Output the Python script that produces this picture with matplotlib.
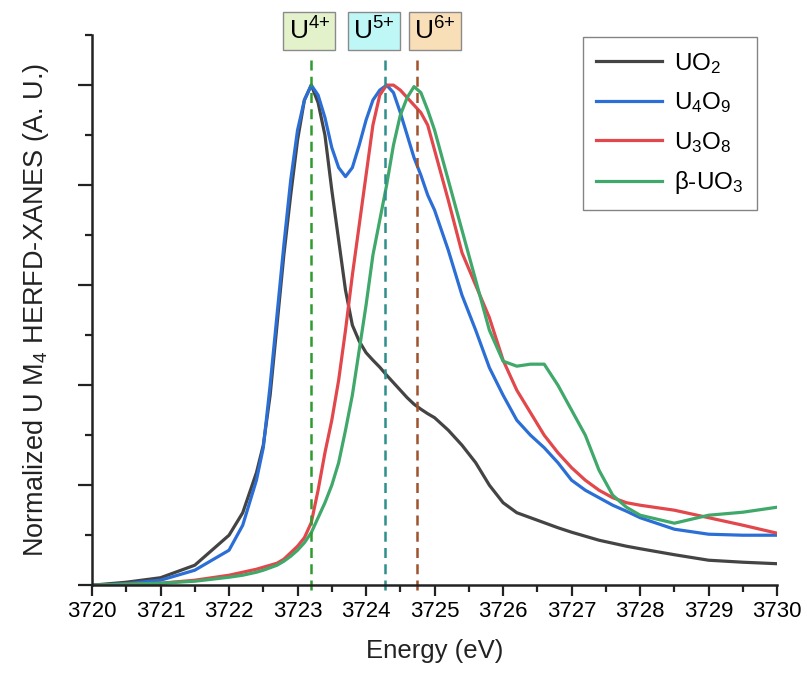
import matplotlib
matplotlib.use("Agg")
import matplotlib.pyplot as plt
from matplotlib.ticker import MultipleLocator

plt.rcParams['font.family'] = ['Liberation Sans', 'DejaVu Sans']
plt.rcParams['mathtext.fontset'] = 'custom'
plt.rcParams['mathtext.rm'] = 'Liberation Sans'
plt.rcParams['mathtext.it'] = 'Liberation Sans:italic'
plt.rcParams['mathtext.bf'] = 'Liberation Sans:bold'

# data
energy = [3720, 3720.5, 3721, 3721.5, 3722, 3722.2, 3722.4, 3722.5, 3722.6, 3722.7,
          3722.8, 3722.9, 3723.0, 3723.1, 3723.2, 3723.3, 3723.4, 3723.5, 3723.6, 3723.7,
          3723.8, 3723.9, 3724.0, 3724.1, 3724.2, 3724.3, 3724.4, 3724.5, 3724.6, 3724.7,
          3724.8, 3724.9, 3725.0, 3725.2, 3725.4, 3725.6, 3725.8, 3726.0, 3726.2, 3726.4,
          3726.6, 3726.8, 3727.0, 3727.2, 3727.4, 3727.6, 3727.8, 3728.0, 3728.5, 3729.0,
          3729.5, 3730.0]

uo2 = [0.0, 0.006, 0.015, 0.04, 0.10, 0.145, 0.225, 0.28, 0.38, 0.52,
       0.66, 0.78, 0.89, 0.97, 1.0, 0.965, 0.90, 0.79, 0.69, 0.59,
       0.52, 0.488, 0.465, 0.45, 0.436, 0.42, 0.405, 0.39, 0.375, 0.362,
       0.352, 0.343, 0.335, 0.31, 0.28, 0.245, 0.20, 0.165, 0.145, 0.135,
       0.125, 0.115, 0.106, 0.098, 0.09, 0.084, 0.078, 0.073, 0.061, 0.05,
       0.046, 0.043]

u4o9 = [0.0, 0.003, 0.01, 0.03, 0.07, 0.12, 0.21, 0.275, 0.40, 0.54,
        0.68, 0.81, 0.91, 0.97, 1.0, 0.98, 0.935, 0.875, 0.835, 0.817,
        0.835, 0.88, 0.93, 0.97, 0.99, 1.0, 0.985, 0.945, 0.90, 0.855,
        0.82, 0.78, 0.75, 0.67, 0.58, 0.51, 0.435, 0.38, 0.33, 0.30,
        0.275, 0.245, 0.21, 0.19, 0.175, 0.16, 0.148, 0.135, 0.112, 0.102,
        0.10, 0.10]

u3o8 = [0.0, 0.002, 0.004, 0.01, 0.02, 0.026, 0.032, 0.036, 0.04, 0.044,
        0.052, 0.065, 0.078, 0.095, 0.125, 0.19, 0.265, 0.33, 0.41, 0.51,
        0.62, 0.72, 0.82, 0.92, 0.98, 1.0, 1.0, 0.99, 0.975, 0.96,
        0.945, 0.92, 0.87, 0.77, 0.665, 0.60, 0.535, 0.45, 0.39, 0.345,
        0.30, 0.265, 0.235, 0.21, 0.19, 0.175, 0.165, 0.16, 0.15, 0.135,
        0.12, 0.104]

buo3 = [0.0, 0.002, 0.004, 0.008, 0.016, 0.02, 0.026, 0.03, 0.035, 0.04,
        0.048, 0.058, 0.07, 0.085, 0.105, 0.135, 0.165, 0.20, 0.245, 0.31,
        0.38, 0.47, 0.56, 0.66, 0.73, 0.80, 0.88, 0.94, 0.975, 0.997,
        0.985, 0.95, 0.91, 0.81, 0.71, 0.61, 0.51, 0.448, 0.438, 0.442,
        0.442, 0.40, 0.35, 0.30, 0.23, 0.18, 0.156, 0.14, 0.124, 0.14,
        0.146, 0.156]

names = ['UO$_2$', 'U$_4$O$_9$', 'U$_3$O$_8$', 'β-UO$_3$']
colors = ['#444444', '#2b6fd6', '#e2474c', '#3fa86a']

marker_pos = [3723.2, 3724.28, 3724.75]
marker_labels = ['U$^{4{+}}$', 'U$^{5{+}}$', 'U$^{6{+}}$']
marker_colors = ['#2e9b2e', '#2f8f8c', '#a0522d']
box_colors = ['#e4f2cc', '#bff7f7', '#f8dfb8']
box_x = [0.3835, 0.4634, 0.539]   # figure fraction, boxes are not centred on the lines


def draw():
    fig = plt.figure(figsize=(8.07, 6.75), dpi=100)
    ax = fig.add_axes([0.114, 0.133, 0.849, 0.815])

    for y, name, c in zip([uo2, u4o9, u3o8, buo3], names, colors):
        ax.plot(energy, y, color=c, lw=2.3, label=name)

    for xp, bx, lab, c, bc in zip(marker_pos, box_x, marker_labels, marker_colors, box_colors):
        ax.vlines(xp, -0.01, 1.06, colors=c, linestyles=(0, (4, 2.5)), lw=1.8, clip_on=False)
        fig.text(bx, 0.954, lab, ha='center', va='center', fontsize=19,
                 bbox=dict(boxstyle='square,pad=0.2', fc=bc, ec='#8a8a8a', lw=1))

    ax.set_xlim(3720, 3730)
    ax.set_ylim(0, 1.1)
    ax.xaxis.set_major_locator(MultipleLocator(1))
    ax.xaxis.set_minor_locator(MultipleLocator(0.5))
    ax.yaxis.set_major_locator(MultipleLocator(0.2))
    ax.yaxis.set_minor_locator(MultipleLocator(0.1))
    ax.set_yticklabels([])
    ax.tick_params(axis='x', which='major', direction='out', length=8, width=1.6,
                   color='#222222', labelsize=16)
    ax.tick_params(axis='y', which='major', direction='out', length=10, width=1.6,
                   color='#222222')
    ax.tick_params(axis='both', which='minor', direction='out', length=5, width=1.6,
                   color='#222222')
    for side in ['top', 'right']:
        ax.spines[side].set_visible(False)
    for side in ['left', 'bottom']:
        ax.spines[side].set_linewidth(1.8)
        ax.spines[side].set_color('#222222')

    ax.set_xlabel('Energy (eV)', fontsize=18.5, color='#222222', labelpad=12)
    ax.set_ylabel('Normalized U M$_4$ HERFD-XANES (A. U.)', fontsize=19.5, color='#222222',
                  labelpad=16)

    leg = ax.legend(loc='upper right', bbox_to_anchor=(0.988, 1.018), fontsize=17.5,
                    fancybox=False, edgecolor='#666666', handlelength=2.7,
                    labelspacing=0.6, borderpad=0.55, handletextpad=0.5)
    leg.get_frame().set_linewidth(1.0)

    fig.savefig('out.png', dpi=100)


def main():
    draw()


if __name__ == '__main__':
    main()
